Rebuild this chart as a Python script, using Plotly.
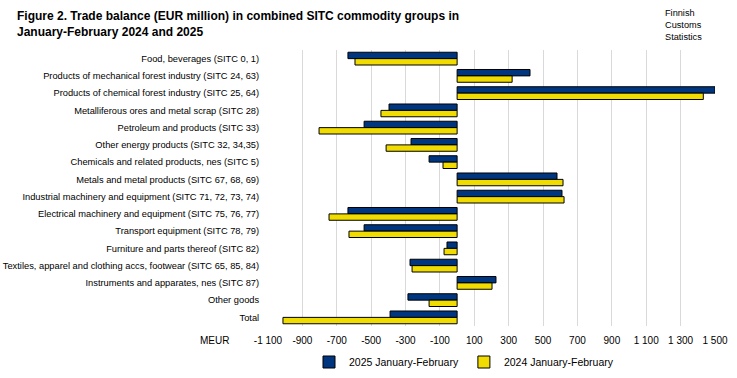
import plotly.graph_objects as go

categories = [
    "Food, beverages (SITC 0, 1)",
    "Products of mechanical forest industry (SITC 24, 63)",
    "Products of chemical forest industry (SITC 25, 64)",
    "Metalliferous ores and metal scrap (SITC 28)",
    "Petroleum and products (SITC 33)",
    "Other energy products (SITC 32, 34,35)",
    "Chemicals and related products, nes (SITC 5)",
    "Metals and metal products (SITC 67, 68, 69)",
    "Industrial machinery and equipment (SITC 71, 72, 73, 74)",
    "Electrical machinery and equipment (SITC 75, 76, 77)",
    "Transport equipment (SITC 78, 79)",
    "Furniture and parts thereof (SITC 82)",
    "Textiles, apparel and clothing accs, footwear (SITC 65, 85, 84)",
    "Instruments and apparates, nes (SITC 87)",
    "Other goods",
    "Total",
]
values_2025 = [-635, 424, 1500, -396, -541, -268, -163, 581, 610, -635, -541, -59, -274, 226, -286, -390]
values_2024 = [-594, 320, 1432, -443, -803, -413, -82, 616, 622, -745, -629, -76, -262, 203, -163, -1013]

tick_vals = list(range(-1100, 1501, 200))
tick_text = ["-1 100", "-900", "-700", "-500", "-300", "-100", "100", "300", "500", "700",
             "900", "1 100", "1 300", "1 500"]

source_lines = ["Finnish", "Customs", "Statistics"]

FONT = "Liberation Sans, Arial, sans-serif"

L, R, T, B = 268, 22, 50, 52
W, H = 737, 378
PW, PH = W - L - R, H - T - B

fig = go.Figure()
fig.add_trace(go.Bar(
    y=categories, x=values_2025, orientation="h", name="2025 January-February",
    marker=dict(color="#003580", line=dict(color="#000000", width=1)),
))
fig.add_trace(go.Bar(
    y=categories, x=values_2024, orientation="h", name="2024 January-February",
    marker=dict(color="#f0dc00", line=dict(color="#000000", width=1)),
))

annotations = [
    dict(text="<b>Figure 2. Trade balance (EUR million) in combined SITC commodity groups in<br>January-February 2024 and 2025</b>",
         xref="paper", yref="paper", x=(15 - L) / PW, y=1 + (T - 7) / PH,
         xanchor="left", yanchor="top", align="left", showarrow=False,
         font=dict(size=12)),
    dict(text="MEUR", xref="paper", yref="paper",
         x=(231 - L) / PW, y=-14 / PH, xanchor="right", yanchor="middle",
         showarrow=False, font=dict(size=10)),
    dict(text="<br>".join(source_lines), xref="paper", yref="paper",
         x=(664 - L) / PW, y=1 + (T - 25.5) / PH,
         xanchor="left", yanchor="middle", align="left", borderpad=0,
         showarrow=False, font=dict(size=9.2)),
]

fig.update_layout(
    width=W, height=H,
    margin=dict(l=L, r=R, t=T, b=B, autoexpand=False),
    paper_bgcolor="white", plot_bgcolor="white",
    barmode="group", bargap=0.26, bargroupgap=0,
    font=dict(family=FONT, size=10, color="#000000"),
    xaxis=dict(
        range=[-1100, 1500], tickvals=tick_vals, ticktext=tick_text,
        showgrid=True, gridcolor="#d9d9d9", gridwidth=1,
        zeroline=False, showline=False,
        ticks="outside", ticklen=5, tickcolor="rgba(0,0,0,0)",
        tickfont=dict(size=10), automargin=False,
    ),
    yaxis=dict(
        autorange="reversed", showgrid=False, zeroline=False, showline=False,
        ticks="outside", ticklen=6, tickcolor="rgba(0,0,0,0)",
        tickfont=dict(size=9.3), automargin=False,
    ),
    legend=dict(
        orientation="h", x=(309 - L) / PW, xanchor="left", y=-(362 - T - PH) / PH, yanchor="middle",
        font=dict(size=10.5), traceorder="normal",
        itemwidth=30,
    ),
    annotations=annotations,
)

fig.write_html("out.html", config={"displayModeBar": False},
               post_script="document.body.style.margin='0';")
